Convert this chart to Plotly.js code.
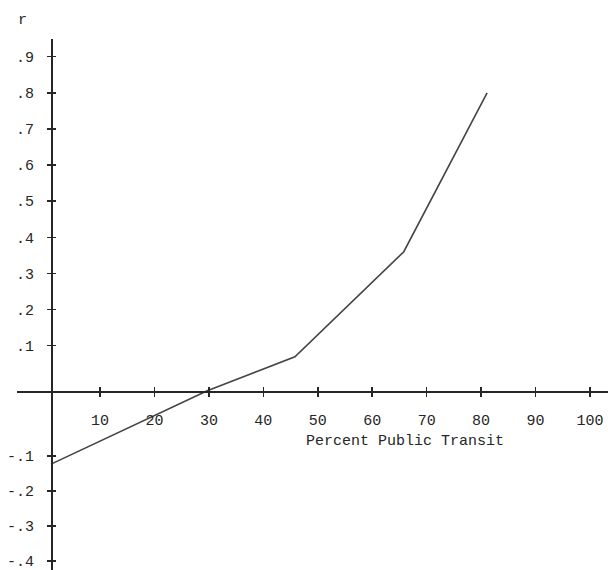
<!DOCTYPE html>
<html>
<head>
<meta charset="utf-8">
<script src="https://cdn.plot.ly/plotly-3.0.1.min.js"></script>
<style>html,body{margin:0;padding:0;background:#fff;}#chart{width:608px;height:570px;}</style>
</head>
<body>
<div id="chart"></div>
<script>
// Values (r read on the scale of the positive tick labels)
const pctTransit = [1.0, 29.7, 45.8, 65.8, 81.1];
const rValues = [-0.228, -0.025, 0.069, 0.36, 0.80];

const xTickVals = [10, 20, 30, 40, 50, 60, 70, 80, 90, 100];
const xTickText = ['10', '20', '30', '40', '50', '60', '70', '80', '90', '100'];
const rPosTickVals = [0.1, 0.2, 0.3, 0.4, 0.5, 0.6, 0.7, 0.8, 0.9];
const rPosTickText = ['.1', '.2', '.3', '.4', '.5', '.6', '.7', '.8', '.9'];
const rNegTickVals = [-0.1, -0.2, -0.3, -0.4];
const rNegTickText = ['-.1', '-.2', '-.3', '-.4'];

const ink = '#262626';
const font = {family: '"Liberation Mono", "DejaVu Sans Mono", monospace', size: 15, color: ink};

const X_RANGE = [-5.254, 103.31];
const Y_RANGE = [-0.5210, 0.9489];
const Y_NEG_RANGE = [-0.4257, 1.0914];
const X_POS = 0.314, Y_POS = 0.05753;

const traces = [
  {x: pctTransit, y: rValues, type: 'scatter', mode: 'lines',
   line: {color: '#444', width: 1.6}, showlegend: false, hoverinfo: 'skip'},
  {x: [], y: [], type: 'scatter', mode: 'lines', yaxis: 'y2', showlegend: false},
  {x: [], y: [], type: 'scatter', mode: 'lines', yaxis: 'y3', showlegend: false},
  {x: [], y: [], type: 'scatter', mode: 'lines', yaxis: 'y4', showlegend: false},
  {x: [], y: [], type: 'scatter', mode: 'lines', xaxis: 'x2', showlegend: false}
];

const tickStyle = {ticklen: 4, tickwidth: 1.5, tickcolor: ink};

const layout = {
  width: 608, height: 570,
  margin: {l: 17, r: 0, t: 0, b: 0},
  paper_bgcolor: '#fff', plot_bgcolor: '#fff',
  font: font,
  showlegend: false,
  xaxis: Object.assign({
    range: X_RANGE, anchor: 'free', position: X_POS,
    showline: true, linecolor: ink, linewidth: 1.5,
    showgrid: false, zeroline: false,
    tickmode: 'array', tickvals: xTickVals, ticktext: xTickText,
    ticks: 'outside', ticklabelstandoff: 10, tickfont: font
  }, tickStyle),
  xaxis2: Object.assign({
    overlaying: 'x', range: X_RANGE, anchor: 'free', position: X_POS,
    showline: false, showgrid: false, zeroline: false, showticklabels: false,
    tickmode: 'array', tickvals: xTickVals, ticks: 'inside'
  }, tickStyle),
  yaxis: Object.assign({
    domain: [0, 0.9316], range: Y_RANGE, anchor: 'free', position: Y_POS,
    showline: true, linecolor: ink, linewidth: 1.5,
    showgrid: false, zeroline: false,
    tickmode: 'array', tickvals: rPosTickVals, ticktext: rPosTickText,
    ticks: 'outside', ticklabelstandoff: 10, tickfont: font
  }, tickStyle),
  yaxis2: Object.assign({
    overlaying: 'y', range: Y_NEG_RANGE, anchor: 'free', position: Y_POS,
    side: 'left', showline: false, showgrid: false, zeroline: false,
    tickmode: 'array', tickvals: rNegTickVals, ticktext: rNegTickText,
    ticks: 'outside', ticklabelstandoff: 10, tickfont: font,
    ticklabeloverflow: 'allow'
  }, tickStyle),
  yaxis3: Object.assign({
    overlaying: 'y', range: Y_RANGE, anchor: 'free', position: Y_POS,
    side: 'left', showline: false, showgrid: false, zeroline: false, showticklabels: false,
    tickmode: 'array', tickvals: rPosTickVals, ticks: 'inside'
  }, tickStyle),
  yaxis4: Object.assign({
    overlaying: 'y', range: Y_NEG_RANGE, anchor: 'free', position: Y_POS,
    side: 'left', showline: false, showgrid: false, zeroline: false, showticklabels: false,
    tickmode: 'array', tickvals: rNegTickVals, ticks: 'inside'
  }, tickStyle),
  annotations: [
    {text: 'r', xref: 'paper', yref: 'paper', x: 0.0085, y: 0.9649,
     xanchor: 'center', yanchor: 'middle', showarrow: false, font: font},
    {text: 'Percent Public Transit', xref: 'paper', yref: 'paper', x: 0.6565, y: 0.2246,
     xanchor: 'center', yanchor: 'middle', showarrow: false, font: font}
  ]
};

Plotly.newPlot('chart', traces, layout, {displayModeBar: false, staticPlot: true});
</script>
</body>
</html>
